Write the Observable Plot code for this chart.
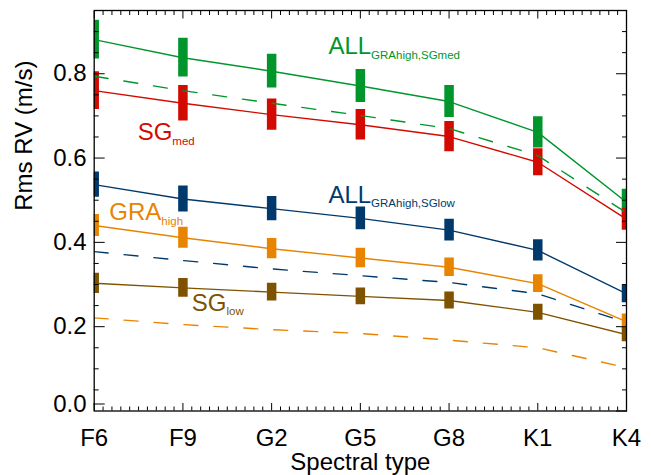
<!DOCTYPE html>
<html><head><meta charset="utf-8">
<script src="https://cdn.jsdelivr.net/npm/d3@7"></script>
<script src="https://cdn.jsdelivr.net/npm/@observablehq/plot@0.6"></script>
<style>html,body{margin:0;padding:0;background:#fff}</style>
</head><body><div id="chart"></div>
<script>
// ---- data ----
const spectralTypes = ["F6","F9","G2","G5","G8","K1","K4"];

const allGRAhighSGmed    = [0.881,0.838,0.806,0.771,0.734,0.661,0.495];
const allGRAhighSGmedErr = [0.046,0.046,0.040,0.039,0.038,0.037,0.031];
const sgMed              = [0.760,0.730,0.703,0.679,0.651,0.590,0.455];
const sgMedErr           = [0.045,0.042,0.037,0.036,0.036,0.032,0.026];
const allGRAhighSGlow    = [0.537,0.503,0.480,0.457,0.429,0.381,0.278];
const allGRAhighSGlowErr = [0.030,0.031,0.029,0.027,0.026,0.025,0.021];
const graHigh            = [0.440,0.411,0.385,0.363,0.341,0.302,0.212];
const graHighErr         = [0.026,0.025,0.024,0.023,0.022,0.021,0.018];
const sgLow              = [0.303,0.292,0.282,0.272,0.262,0.234,0.181];
const sgLowErr           = [0.024,0.022,0.021,0.020,0.020,0.019,0.017];

const dashedGreen  = [0.794,0.760,0.730,0.701,0.670,0.606,0.470];
const dashedBlue   = [0.378,0.357,0.337,0.321,0.305,0.278,0.210];
const dashedOrange = [0.221,0.205,0.193,0.184,0.168,0.150,0.103];

const yMajorTicks = [0.0,0.2,0.4,0.6,0.8];

// ---- styles ----
const GREEN = "#00962c", RED = "#d20a00", BLUE = "#003a6c", ORANGE = "#e88400", BROWN = "#7f5200";

const solidSeries = [
  {vals: allGRAhighSGmed, errs: allGRAhighSGmedErr, color: GREEN},
  {vals: sgMed, errs: sgMedErr, color: RED},
  {vals: allGRAhighSGlow, errs: allGRAhighSGlowErr, color: BLUE},
  {vals: graHigh, errs: graHighErr, color: ORANGE},
  {vals: sgLow, errs: sgLowErr, color: BROWN}
];
const dashedSeries = [
  {vals: dashedGreen, color: GREEN},
  {vals: dashedBlue, color: BLUE},
  {vals: dashedOrange, color: ORANGE}
];
// annotation anchors: [category index, value]
const labels = [
  {text: "ALL|GRAhigh,SGmed", at: [2.64, 0.864], color: GREEN},
  {text: "SG|med",            at: [0.49, 0.660], color: RED},
  {text: "ALL|GRAhigh,SGlow", at: [2.64, 0.512], color: BLUE},
  {text: "GRA|high",          at: [0.17, 0.471], color: ORANGE},
  {text: "SG|low",            at: [1.10, 0.256], color: BROWN}
];

const rows = (vals, errs) => vals.map((v, i) => ({i, v, e: errs ? errs[i] : 0}));
const idx = spectralTypes.map((_, i) => i);
const minorX = d3.range(0, 60).map(k => k / 10).filter(v => Math.abs(v - Math.round(v)) > 1e-6);
const minorY = d3.range(1, 19).map(k => k * 0.05).filter(v => Math.abs(v * 5 - Math.round(v * 5)) > 1e-6);
const blank = () => "";
const fmt = d3.format(".1f");

const marks = [];
for (const s of solidSeries) {
  marks.push(Plot.ruleX(rows(s.vals, s.errs), {x: "i", y1: d => d.v - d.e, y2: d => d.v + d.e, stroke: s.color, strokeWidth: 9.5, clip: true}));
}
for (const s of solidSeries) {
  marks.push(Plot.line(rows(s.vals), {x: "i", y: "v", stroke: s.color, strokeWidth: 1.4, clip: true}));
}
for (const s of dashedSeries) {
  marks.push(Plot.line(rows(s.vals), {x: "i", y: "v", stroke: s.color, strokeWidth: 1.4, strokeDasharray: "14,16", clip: true}));
}
for (const l of labels) {
  marks.push(Plot.text([l], {x: d => d.at[0], y: d => d.at[1], text: "text", fill: l.color, fontSize: 24, textAnchor: "start", lineAnchor: "middle"}));
}
marks.push(
  Plot.frame({stroke: "black", strokeWidth: 1.3}),
  Plot.axisX(idx, {anchor: "bottom", tickSize: -7.5, tickPadding: 25, tickFormat: i => spectralTypes[i], label: null, fontSize: 24}),
  Plot.axisX(minorX, {anchor: "bottom", tickSize: -4, tickFormat: blank, label: null}),
  Plot.axisX(idx, {anchor: "top", tickSize: -7.5, tickFormat: blank, label: null}),
  Plot.axisX(minorX, {anchor: "top", tickSize: -4, tickFormat: blank, label: null}),
  Plot.axisY(yMajorTicks.slice(1), {anchor: "left", tickSize: -11, tickPadding: 18.7, tickFormat: fmt, label: null, fontSize: 24}),
  Plot.axisY(yMajorTicks.slice(0, 1), {anchor: "left", tickSize: -11, tickPadding: 18.7, tickFormat: fmt, label: null, fontSize: 24, dy: -7}),
  Plot.axisY(minorY, {anchor: "left", tickSize: -5, tickFormat: blank, label: null}),
  Plot.axisY(yMajorTicks, {anchor: "right", tickSize: -11, tickFormat: blank, label: null}),
  Plot.axisY(minorY, {anchor: "right", tickSize: -5, tickFormat: blank, label: null}),
  Plot.text(["Spectral type"], {frameAnchor: "bottom", text: d => d, dy: 59, fontSize: 24, fill: "black"}),
  Plot.text(["Rms RV (m/s)"], {frameAnchor: "left", text: d => d, rotate: -90, dx: -70, fontSize: 24, fill: "black"})
);

const chart = Plot.plot({
  width: 651, height: 475,
  marginLeft: 93.7, marginRight: 25, marginTop: 10, marginBottom: 64.5,
  x: {type: "linear", domain: [0, 6], axis: null},
  y: {domain: [0, 0.95], axis: null},
  style: {fontFamily: "'Liberation Sans', Arial, Helvetica, sans-serif", fontSize: "24px", color: "black", background: "white"},
  marks
});

// subscripts for the series annotations
d3.select(chart).selectAll('g[aria-label="text"] text').each(function () {
  const t = d3.select(this);
  const s = t.text();
  if (!s.includes("|")) return;
  const [main, sub] = s.split("|");
  t.text(null);
  t.append("tspan").text(main);
  t.append("tspan").attr("font-size", 11.5).attr("dy", 4.5).text(sub);
});

document.getElementById("chart").appendChild(chart);
</script>
</body></html>
